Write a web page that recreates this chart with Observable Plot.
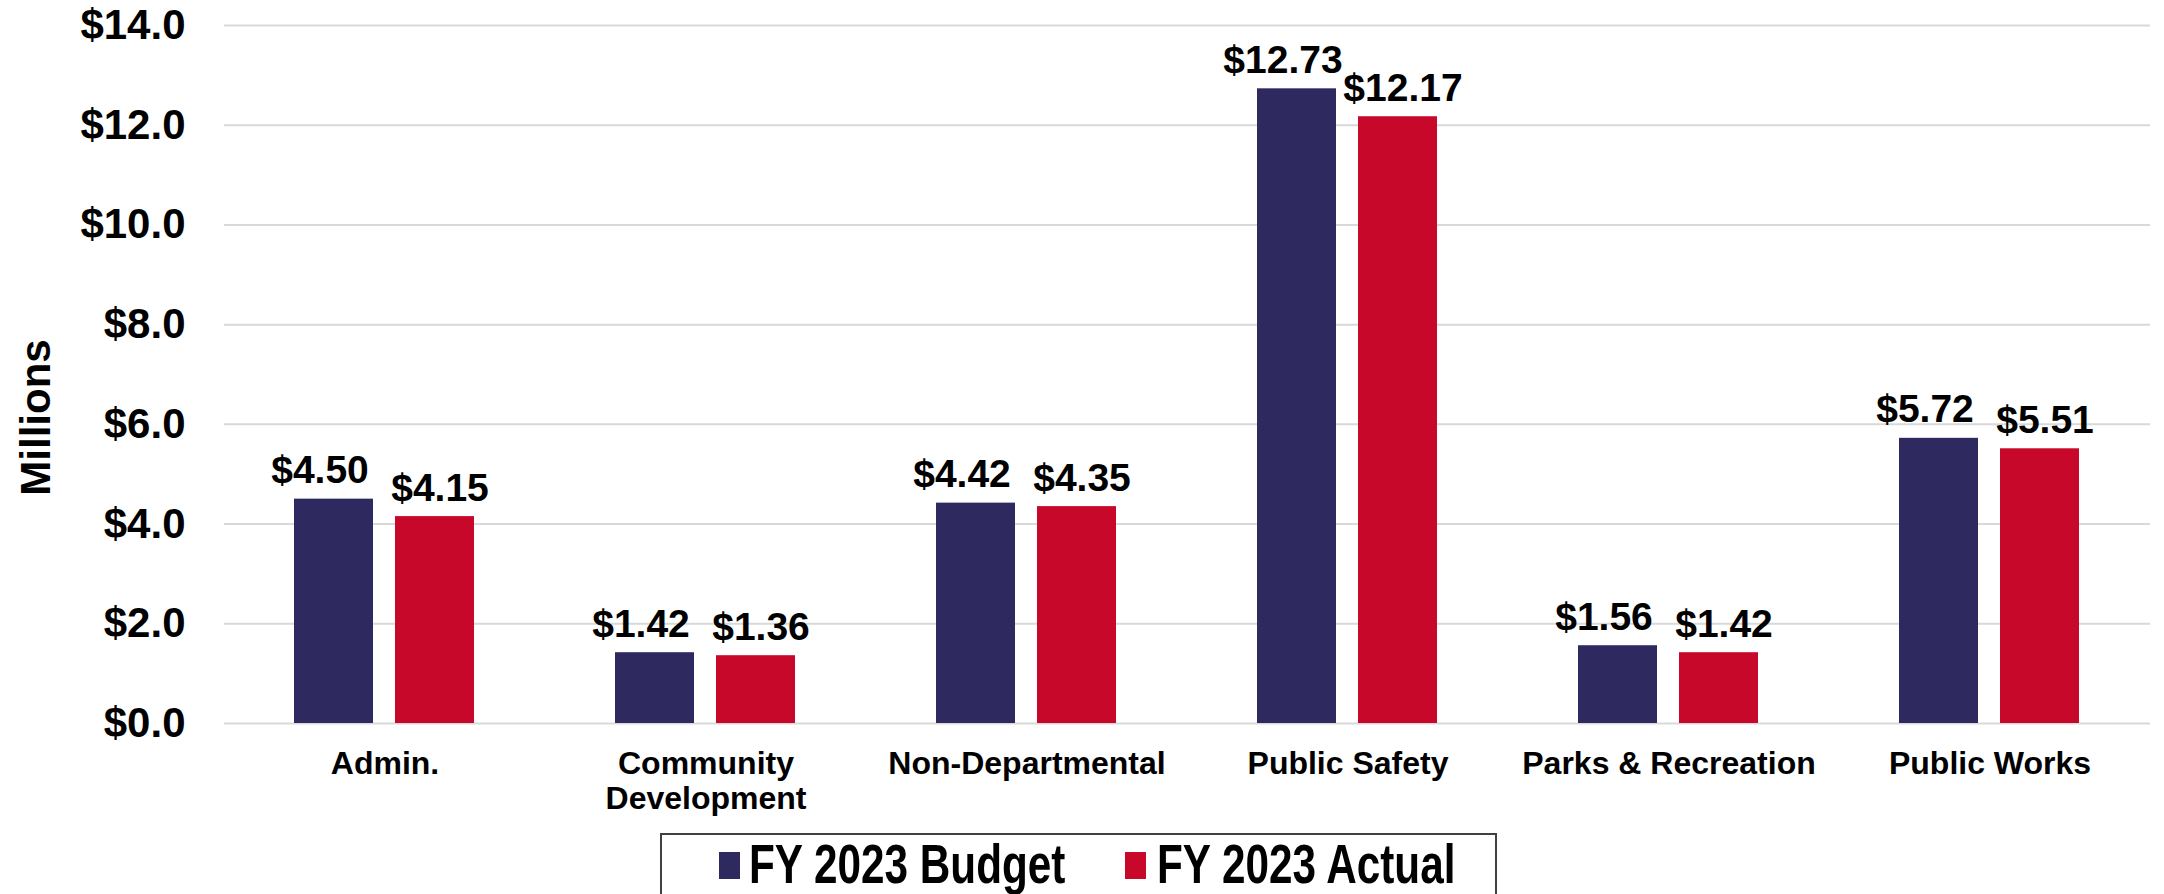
<!DOCTYPE html>
<html>
<head>
<meta charset="utf-8">
<script src="https://cdn.jsdelivr.net/npm/d3@7"></script>
<script src="https://cdn.jsdelivr.net/npm/@observablehq/plot@0.6"></script>
<style>
  html, body { margin: 0; padding: 0; background: #fff; overflow: hidden; width: 2164px; height: 894px; }
  #wrap { position: relative; width: 2164px; height: 894px; }
  #legend { position: absolute; left: 660px; top: 833px; width: 837px; height: 90px; border: 2px solid #404040; box-sizing: border-box; background: #fff; }
  .sw { position: absolute; top: 17px; width: 21px; height: 27px; }
  .lt { position: absolute; top: 1px; font-family: "Liberation Sans", Arial, sans-serif; font-weight: bold; font-size: 56px; line-height: 1; white-space: nowrap; transform: scaleX(0.755); transform-origin: left top; color: #000; }
</style>
</head>
<body>
<div id="wrap">
  <div id="chart"></div>
  <div id="legend"></div>
</div>
<script>
const categories = ["Admin.", "Community\nDevelopment", "Non-Departmental", "Public Safety", "Parks & Recreation", "Public Works"];
const series = ["FY 2023 Budget", "FY 2023 Actual"];
const budget = [4.50, 1.42, 4.42, 12.73, 1.56, 5.72];
const actual = [4.15, 1.36, 4.35, 12.17, 1.42, 5.51];
const yTicks = [0, 2, 4, 6, 8, 10, 12, 14];
const yTitle = "Millions";
const colors = ["#2E2A60", "#C8082B"];

const data = categories.flatMap((c, i) => [
  {category: c, series: series[0], value: budget[i]},
  {category: c, series: series[1], value: actual[i]}
]);

const labelOpts = {fx: "category", x: "series", y: "value", text: d => "$" + d.value.toFixed(2),
  lineAnchor: "bottom", dy: -16, fontSize: 39, fontWeight: "bold", fill: "#000"};

const chart = Plot.plot({
  width: 2164,
  height: 828,
  marginTop: 25,
  marginBottom: 105,
  marginLeft: 222,
  marginRight: 12,
  style: {fontFamily: "'Liberation Sans', Arial, sans-serif", fontWeight: "bold", color: "#000", background: "#fff"},
  fx: {domain: categories, padding: 0, label: null},
  x: {domain: series, paddingInner: 0.216, paddingOuter: 0.685, axis: null},
  y: {domain: [0, 14]},
  color: {domain: series, range: colors},
  marks: [
    Plot.gridY(yTicks, {stroke: "#d9d9d9", strokeWidth: 2, strokeOpacity: 1}),
    Plot.barY(data, {fx: "category", x: "series", y: "value", fill: "series"}),
    Plot.text(data.filter(d => d.series === series[0]), {...labelOpts, dx: -14}),
    Plot.text(data.filter(d => d.series === series[1]), {...labelOpts, dx: 5}),
    Plot.axisY(yTicks, {tickFormat: d => "$" + d.toFixed(1), tickSize: 0, tickPadding: 39, fontSize: 42,
      fontWeight: "bold", label: null}),
    Plot.text([{fx: categories[0], t: yTitle}], {fx: "fx", text: "t", frameAnchor: "left", rotate: -90,
      dx: -188, dy: 43, fontSize: 42, fontWeight: "bold", fill: "#000", textAnchor: "middle", lineAnchor: "middle"}),
    Plot.axisFx({anchor: "bottom", tickSize: 0, tickPadding: 25, fontSize: 32, fontWeight: "bold", label: null, lineHeight: 1.1})
  ]
});
document.getElementById("chart").appendChild(chart);

// legend
const legend = document.getElementById("legend");
const swLeft = [57, 463];
const txLeft = [87, 495];
series.forEach((s, i) => {
  const sw = document.createElement("div");
  sw.className = "sw";
  sw.style.left = swLeft[i] + "px";
  sw.style.background = colors[i];
  legend.appendChild(sw);
  const t = document.createElement("div");
  t.className = "lt";
  t.style.left = txLeft[i] + "px";
  t.textContent = s;
  legend.appendChild(t);
});
</script>
</body>
</html>
